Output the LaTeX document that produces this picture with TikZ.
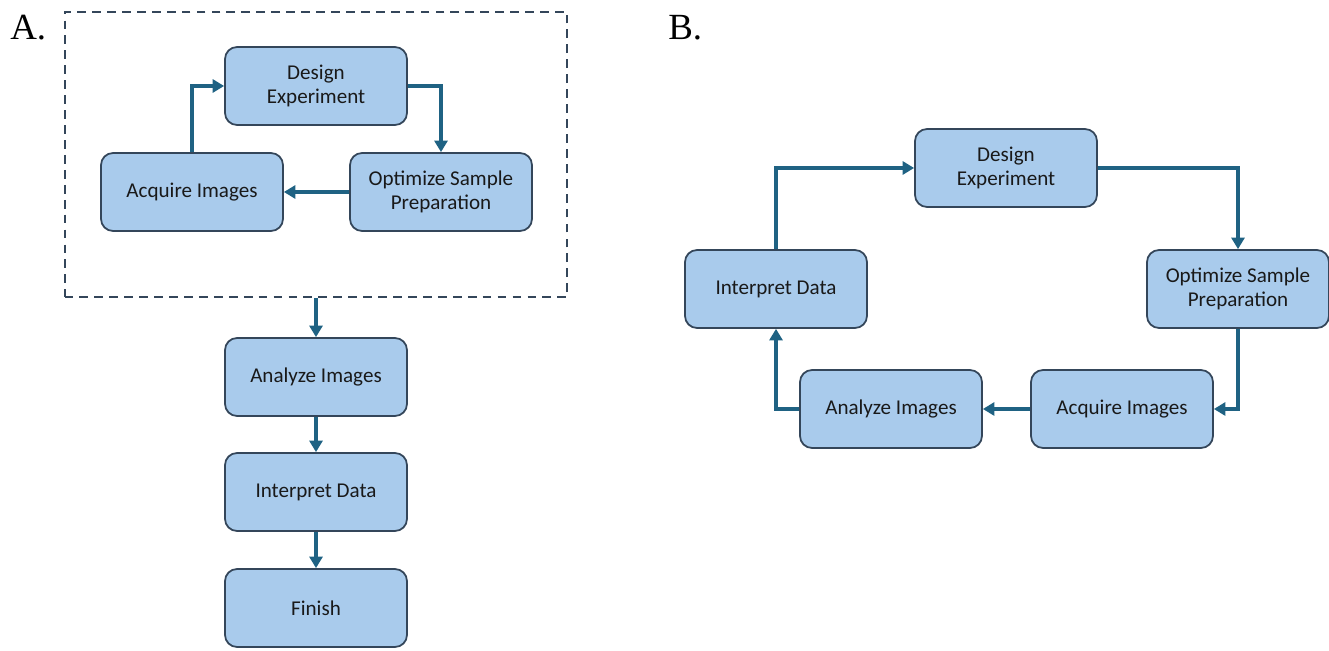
\documentclass[tikz,border=0pt]{standalone}
\usepackage{fontspec}
\newfontfamily\boxfont{Carlito}
\newfontfamily\labelfont{Liberation Serif}
\usetikzlibrary{arrows.meta}

\definecolor{boxfill}{HTML}{A9CBEC}
\definecolor{boxline}{HTML}{34465A}
\definecolor{flowline}{HTML}{1F6283}

\tikzset{
	flowbox/.style={draw=boxline, fill=boxfill, line width=1pt, rounded corners=0.24cm,
		minimum width=3.64cm, minimum height=1.56cm, align=center,
		font=\boxfont\fontsize{12}{14}\selectfont, text=black!90},
	flowarrow/.style={draw=flowline, line width=2.1pt, -{Triangle[length=2.3mm,width=2.6mm]}},
	panellabel/.style={anchor=base west, font=\labelfont\fontsize{21}{24}\selectfont, inner sep=0pt}
}

\begin{document}
\begin{tikzpicture}[x=0.02cm, y=-0.02cm]
		\useasboundingbox (0,0) rectangle (1329,651);
		
		% PANEL A
		\node[panellabel] (labA) at (10,40) {A.};
		\node[draw=boxline, dash pattern=on 5pt off 3.5pt, line width=1.1pt, minimum width=10.06cm, minimum height=5.7cm] (frameA) at (316,154.5) {};
		\node[flowbox] (designA) at (316,86) {Design\\Experiment};
		\node[flowbox] (acqA) at (192,192) {Acquire Images};
		\node[flowbox] (optA) at (441,192) {Optimize Sample\\Preparation};
		\node[flowbox] (anaA) at (316,377) {Analyze Images};
		\node[flowbox] (intA) at (316,492) {Interpret Data};
		\node[flowbox] (finA) at (316,608) {Finish};
		
		\draw[flowarrow] (acqA.north) |- (designA.west);
		\draw[flowarrow] (designA.east) -| (optA.north);
		\draw[flowarrow] (optA.west) -- (acqA.east);
		\draw[flowarrow] (frameA.south) -- (anaA.north);
		\draw[flowarrow] (anaA.south) -- (intA.north);
		\draw[flowarrow] (intA.south) -- (finA.north);
		
		% PANEL B
		\node[panellabel] (labB) at (668,40) {B.};
		\node[flowbox] (designB) at (1006,168) {Design\\Experiment};
		\node[flowbox] (optB) at (1238,289) {Optimize Sample\\Preparation};
		\node[flowbox] (acqB) at (1122,409) {Acquire Images};
		\node[flowbox] (anaB) at (891,409) {Analyze Images};
		\node[flowbox] (intB) at (776,289) {Interpret Data};
		
		\draw[flowarrow] (designB.east) -| (optB.north);
		\draw[flowarrow] (optB.south) |- (acqB.east);
		\draw[flowarrow] (acqB.west) -- (anaB.east);
		\draw[flowarrow] (anaB.west) -| (intB.south);
		\draw[flowarrow] (intB.north) |- (designB.west);
	\end{tikzpicture}
\end{document}
